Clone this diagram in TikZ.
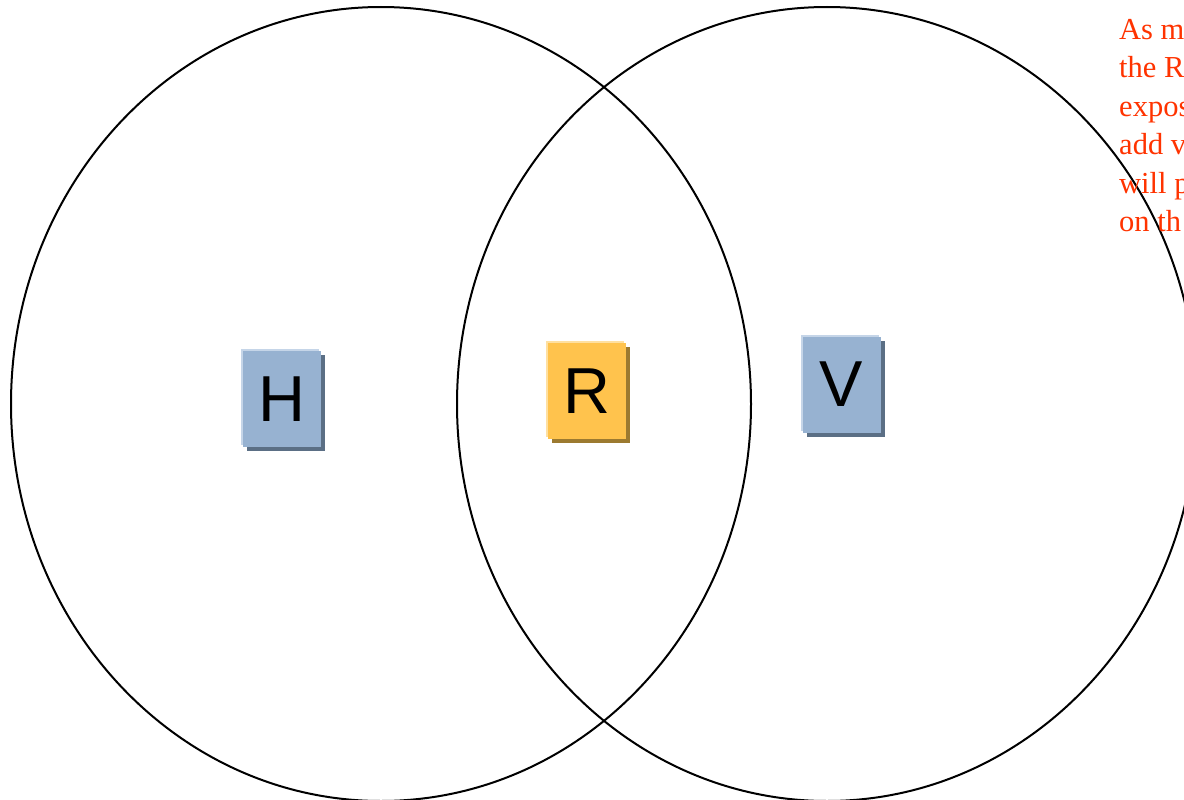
\documentclass[tikz,border=0pt]{standalone}
\usepackage{fontspec}
\setmainfont{Liberation Serif}
\newfontfamily\lettersans{Liberation Sans}
\usetikzlibrary{shadows}
\definecolor{boxblue}{HTML}{97B2D1}
\definecolor{blueshadow}{HTML}{5B6F85}
\definecolor{bluehi}{HTML}{C5D5E8}
\definecolor{boxgold}{HTML}{FFC34D}
\definecolor{goldshadow}{HTML}{9C7A30}
\definecolor{goldhi}{HTML}{FFE0A0}
\definecolor{notered}{HTML}{FF3300}
\tikzset{
  ring/.style={draw=black, line width=2pt},
  letterbox/.style={rectangle, inner sep=0pt, minimum width=78pt, minimum height=96pt,
    font=\lettersans\fontsize{65}{65}\selectfont},
  bluebox/.style={letterbox, fill=boxblue,
    general shadow={fill=blueshadow, shadow xshift=4pt, shadow yshift=-4pt},
    general shadow={fill=bluehi, shadow xshift=-2pt, shadow yshift=2pt}},
  goldbox/.style={letterbox, fill=boxgold,
    general shadow={fill=goldshadow, shadow xshift=4pt, shadow yshift=-4pt},
    general shadow={fill=goldhi, shadow xshift=-2pt, shadow yshift=2pt}},
  note/.style={text=notered, font=\fontsize{30.5}{38.5}\selectfont, align=left, inner sep=0pt, anchor=north west}
}
\begin{document}
\begin{tikzpicture}[x=1pt, y=-1pt]
\useasboundingbox (0,0) rectangle (1184,800);
\begin{scope}
\clip (0,0) rectangle (1184,800);
\draw[ring] (381,404) ellipse [x radius=370pt, y radius=397pt];
\draw[ring] (827,404) ellipse [x radius=370pt, y radius=397pt];
\node[note] (txt) at (1119,19) {As m\\the R\\expos\\add v\\will p\\on th};
\end{scope}
\node[bluebox] (H) at (282,399) {H};
\node[goldbox] (R) at (587,391) {R};
\node[bluebox] (V) at (841.5,384.5) {V};
\end{tikzpicture}
\end{document}
